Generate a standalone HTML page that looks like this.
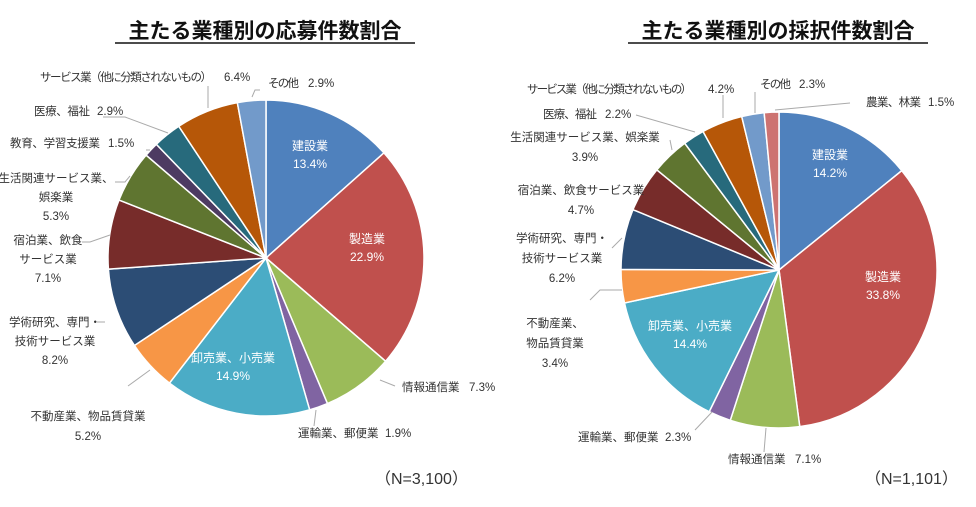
<!DOCTYPE html>
<html><head><meta charset="utf-8"><style>
body{margin:0;background:#fff;width:976px;height:502px;overflow:hidden;font-family:"Liberation Sans","Noto Sans CJK JP",sans-serif}
svg text{font-family:"Liberation Sans","Noto Sans CJK JP",sans-serif;font-size:11.5px;fill:#333}
.t{font-size:21px;font-weight:bold;fill:#111}
.w{fill:#fff}
</style></head><body>
<svg id="s" width="976" height="502" xmlns="http://www.w3.org/2000/svg">
<text class="t" x="265" y="38" text-anchor="middle">主たる業種別の応募件数割合</text>
<line x1="115" y1="43" x2="415" y2="43" stroke="#111" stroke-width="1.5"/>
<text class="t" x="778" y="38" text-anchor="middle">主たる業種別の採択件数割合</text>
<line x1="628" y1="43" x2="928" y2="43" stroke="#111" stroke-width="1.5"/>
<g id="p1"></g><g id="p2"></g>
<g stroke="#aaa" fill="none" stroke-width="1">
<path d="M208 86 L208 108"/><path d="M252 97 L255 90 L260 90"/><path d="M103 117 L125 117 L168 133"/><path d="M146 150 L150 150"/><path d="M115 182 L125 182 L130 176"/>
<path d="M82 242 L90 242 L110 235"/>
<path d="M97 322 L105 322"/><path d="M128 386 L150 370"/><path d="M314 426 L316 410"/><path d="M380 380 L395 386"/>
<path d="M723 95 L723 118"/><path d="M755 92 L755 113"/><path d="M775 110 L850 103"/><path d="M636 115 L695 132"/><path d="M670 140 L672 150"/>
<path d="M612 248 L622 238"/>
<path d="M590 300 L600 290 L622 290"/><path d="M695 430 L712 412"/><path d="M764 452 L766 428"/>
</g>
<text class="w" x="310" y="150" text-anchor="middle" style="font-size:12px">建設業</text><text class="w" x="310" y="168" text-anchor="middle" style="font-size:12px">13.4%</text>
<text class="w" x="367" y="243" text-anchor="middle" style="font-size:12px">製造業</text><text class="w" x="367" y="261" text-anchor="middle" style="font-size:12px">22.9%</text>
<text class="w" x="233" y="362" text-anchor="middle" style="font-size:12px">卸売業、小売業</text><text class="w" x="233" y="380" text-anchor="middle" style="font-size:12px">14.9%</text>
<text x="402" y="391">情報通信業</text><text x="469" y="391">7.3%</text>
<text x="298" y="437">運輸業、郵便業</text><text x="385" y="437">1.9%</text>
<text x="88" y="420" text-anchor="middle">不動産業、物品賃貸業</text><text x="88" y="440" text-anchor="middle">5.2%</text>
<text x="55" y="326" text-anchor="middle">学術研究、専門・</text><text x="55" y="345" text-anchor="middle">技術サービス業</text><text x="55" y="364" text-anchor="middle">8.2%</text>
<text x="48" y="244" text-anchor="middle">宿泊業、飲食</text><text x="48" y="263" text-anchor="middle">サービス業</text><text x="48" y="282" text-anchor="middle">7.1%</text>
<text x="56" y="182" text-anchor="middle">生活関連サービス業、</text><text x="56" y="201" text-anchor="middle">娯楽業</text><text x="56" y="220" text-anchor="middle">5.3%</text>
<text x="10" y="147" textLength="90">教育、学習支援業</text><text x="108" y="147">1.5%</text>
<text x="34" y="115" textLength="56">医療、福祉</text><text x="97" y="115">2.9%</text>
<text x="40" y="81" textLength="172">サービス業（他に分類されないもの）</text><text x="224" y="81">6.4%</text>
<text x="268" y="87" textLength="31">その他</text><text x="308" y="87">2.9%</text>
<text x="375" y="484" style="font-size:16px">（N=3,100）</text>
<text class="w" x="830" y="159" text-anchor="middle" style="font-size:12px">建設業</text><text class="w" x="830" y="177" text-anchor="middle" style="font-size:12px">14.2%</text>
<text class="w" x="883" y="281" text-anchor="middle" style="font-size:12px">製造業</text><text class="w" x="883" y="299" text-anchor="middle" style="font-size:12px">33.8%</text>
<text class="w" x="690" y="330" text-anchor="middle" style="font-size:12px">卸売業、小売業</text><text class="w" x="690" y="348" text-anchor="middle" style="font-size:12px">14.4%</text>
<text x="728" y="463">情報通信業</text><text x="795" y="463">7.1%</text>
<text x="578" y="441">運輸業、郵便業</text><text x="665" y="441">2.3%</text>
<text x="555" y="327" text-anchor="middle">不動産業、</text><text x="555" y="347" text-anchor="middle">物品賃貸業</text><text x="555" y="367" text-anchor="middle">3.4%</text>
<text x="562" y="242" text-anchor="middle">学術研究、専門・</text><text x="562" y="262" text-anchor="middle">技術サービス業</text><text x="562" y="282" text-anchor="middle">6.2%</text>
<text x="581" y="194" text-anchor="middle">宿泊業、飲食サービス業</text><text x="581" y="214" text-anchor="middle">4.7%</text>
<text x="585" y="141" text-anchor="middle">生活関連サービス業、娯楽業</text><text x="585" y="161" text-anchor="middle">3.9%</text>
<text x="543" y="118" textLength="54">医療、福祉</text><text x="605" y="118">2.2%</text>
<text x="527" y="93" textLength="165">サービス業（他に分類されないもの）</text><text x="708" y="93">4.2%</text>
<text x="760" y="88" textLength="31">その他</text><text x="799" y="88">2.3%</text>
<text x="866" y="106" textLength="55">農業、林業</text><text x="928" y="106">1.5%</text>
<text x="865" y="484" style="font-size:16px">（N=1,101）</text>
</svg>
<script>
function pie(id,cx,cy,r,vals,cols){var g=document.getElementById(id),a=0,t=vals.reduce((x,y)=>x+y,0),h='';
vals.forEach(function(v,i){var a2=a+v/t*2*Math.PI;var x1=cx+r*Math.sin(a),y1=cy-r*Math.cos(a),x2=cx+r*Math.sin(a2),y2=cy-r*Math.cos(a2);
h+='<path d="M'+cx+' '+cy+' L'+x1+' '+y1+' A'+r+' '+r+' 0 '+((a2-a)>Math.PI?1:0)+' 1 '+x2+' '+y2+' Z" fill="'+cols[i]+'" stroke="#fff" stroke-width="1.5"/>';a=a2;});g.innerHTML=h;}
var C=['#4F81BD','#C0504D','#9BBB59','#8064A2','#4BACC6','#F79646','#2C4D75','#772C2A','#5F7530','#4D3B62','#276A7C','#B65708','#729ACA','#CD7371'];
pie('p1',266,258,158,[13.4,22.9,7.3,1.9,14.9,5.2,8.2,7.1,5.3,1.5,2.9,6.4,2.9],C.slice(0,13));
pie('p2',779,270,158,[14.2,33.8,7.1,2.3,14.4,3.4,6.2,4.7,3.9,2.2,4.2,2.3,1.5],['#4F81BD','#C0504D','#9BBB59','#8064A2','#4BACC6','#F79646','#2C4D75','#772C2A','#5F7530','#276A7C','#B65708','#729ACA','#CD7371']);
</script>
</body></html>
